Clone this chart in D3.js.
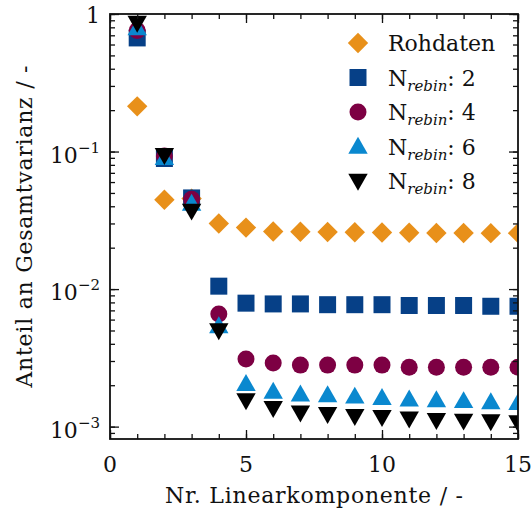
<!DOCTYPE html>
<html>
<head>
<meta charset="utf-8">
<script src="https://cdn.jsdelivr.net/npm/d3@7"></script>
<style>
  html, body { margin: 0; padding: 0; background: #fff; }
  svg text { font-family: "DejaVu Serif", "Liberation Serif", serif; fill: #111; }
</style>
</head>
<body>
<svg id="chart" width="531" height="510"></svg>
<script>
// Principal components (x) and their share of total variance
const components = [1, 2, 3, 4, 5, 6, 7, 8, 9, 10, 11, 12, 13, 14, 15];
const rohdaten = [0.213, 0.0446, 0.0455, 0.030, 0.028, 0.0262, 0.0261, 0.026, 0.0259, 0.0258, 0.0257, 0.0256, 0.0256, 0.0255, 0.0255];
const rebin2  = [0.67, 0.089, 0.046, 0.0105, 0.0079, 0.0078, 0.0078, 0.0077, 0.0077, 0.0077, 0.0076, 0.0076, 0.0076, 0.0075, 0.0075];
const rebin4  = [0.76, 0.093, 0.045, 0.0066, 0.0031, 0.0029, 0.0028, 0.0028, 0.0028, 0.0028, 0.0027, 0.0027, 0.0027, 0.0027, 0.0027];
const rebin6  = [0.79, 0.090, 0.042, 0.0054, 0.00205, 0.0018, 0.00172, 0.0017, 0.00166, 0.00162, 0.00158, 0.00156, 0.00154, 0.00151, 0.00149];
const rebin8  = [0.86, 0.094, 0.037, 0.0050, 0.00155, 0.00136, 0.00126, 0.00123, 0.00119, 0.00117, 0.00114, 0.00111, 0.0011, 0.00109, 0.00107];

const xTicks = [0, 5, 10, 15];
const yTicks = [1, 0.1, 0.01, 0.001];
const yTickLabels = ["1", "10^{-1}", "10^{-2}", "10^{-3}"];

const series = [
  { name: "Rohdaten", sub: null, values: rohdaten, symbol: "diamond", color: "#E8901A" },
  { name: "N", sub: "rebin", suffix: ": 2", values: rebin2, symbol: "square", color: "#064087" },
  { name: "N", sub: "rebin", suffix: ": 4", values: rebin4, symbol: "circle", color: "#7D0043" },
  { name: "N", sub: "rebin", suffix: ": 6", values: rebin6, symbol: "up", color: "#0A88CF" },
  { name: "N", sub: "rebin", suffix: ": 8", values: rebin8, symbol: "down", color: "#000000" }
];

const margin = { left: 110, right: 13, top: 14, bottom: 71 };
const W = 531, H = 510;
const svg = d3.select("#chart");

const x = d3.scaleLinear().domain([0, 15]).range([margin.left, W - margin.right]);
const y = d3.scaleLog().domain([Math.pow(10, -3.09), 1]).range([H - margin.bottom, margin.top]);

const plot = svg.append("g");
plot.append("clipPath").attr("id", "clip")
  .append("rect")
  .attr("x", margin.left).attr("y", margin.top)
  .attr("width", W - margin.left - margin.right)
  .attr("height", H - margin.top - margin.bottom);

// Marker shapes
function markerPath(sym, s) {
  switch (sym) {
    case "diamond": {
      const r = s * 0.6;
      return `M0,${-r}L${r},0L0,${r}L${-r},0Z`;
    }
    case "square": {
      const h = s * 0.5;
      return `M${-h},${-h}H${h}V${h}H${-h}Z`;
    }
    case "circle": {
      const r = s * 0.5;
      return `M${r},0A${r},${r} 0 1,1 ${-r},0A${r},${r} 0 1,1 ${r},0Z`;
    }
    case "up": {
      const h = s * 0.57;
      return `M0,${-h}L${h},${h * 0.75}L${-h},${h * 0.75}Z`;
    }
    case "down": {
      const h = s * 0.57;
      return `M0,${h}L${h},${-h * 0.75}L${-h},${-h * 0.75}Z`;
    }
  }
}

const markers = plot.append("g").attr("clip-path", "url(#clip)");
series.forEach(s => {
  markers.append("g").selectAll("path")
    .data(s.values.map((v, i) => [components[i], v]))
    .join("path")
    .attr("transform", d => `translate(${x(d[0])},${y(d[1])})`)
    .attr("d", markerPath(s.symbol, 17))
    .attr("fill", s.color);
});

// Axes with inward ticks on all four sides
const axisG = svg.append("g").attr("stroke", "#111");
const minorX = d3.range(0, 16);
const yMinor = [];
for (let e = -4; e <= 0; e++) for (let m = 1; m < 10; m++) {
  const v = m * Math.pow(10, e);
  if (v >= y.domain()[0] && v <= 1) yMinor.push(v);
}

function ticksX(g, yPos, dir) {
  g.append("g").call(
    (dir > 0 ? d3.axisBottom(x) : d3.axisTop(x)).tickValues(minorX).tickSize(-5).tickFormat("")
  ).attr("transform", `translate(0,${yPos})`);
  g.append("g").call(
    (dir > 0 ? d3.axisBottom(x) : d3.axisTop(x)).tickValues(xTicks).tickSize(-9).tickFormat("")
  ).attr("transform", `translate(0,${yPos})`);
}
function ticksY(g, xPos, left) {
  g.append("g").call(
    (left ? d3.axisLeft(y) : d3.axisRight(y)).tickValues(yMinor).tickSize(-5).tickFormat("")
  ).attr("transform", `translate(${xPos},0)`);
  g.append("g").call(
    (left ? d3.axisLeft(y) : d3.axisRight(y)).tickValues(yTicks).tickSize(-9).tickFormat("")
  ).attr("transform", `translate(${xPos},0)`);
}
ticksX(axisG, H - margin.bottom, 1);
ticksX(axisG, margin.top, -1);
ticksY(axisG, margin.left, true);
ticksY(axisG, W - margin.right, false);
axisG.selectAll(".domain").remove();
axisG.selectAll("line").attr("stroke", "#111").attr("stroke-width", 1.3);

svg.append("rect")
  .attr("x", margin.left).attr("y", margin.top)
  .attr("width", W - margin.left - margin.right)
  .attr("height", H - margin.top - margin.bottom)
  .attr("fill", "none").attr("stroke", "#111").attr("stroke-width", 1.8);

const FS = 22;

// Tick labels
svg.append("g").selectAll("text").data(xTicks).join("text")
  .attr("x", d => x(d)).attr("y", 472)
  .attr("text-anchor", "middle").attr("font-size", FS)
  .text(d => d);

const yl = svg.append("g").selectAll("text").data(yTicks).join("text")
  .attr("x", 100)
  .attr("text-anchor", "end").attr("font-size", FS);
yl.each(function (d, i) {
  const t = d3.select(this);
  const lab = yTickLabels[i];
  const m = lab.match(/^(\d+)\^\{(.+)\}$/);
  if (m) {
    t.attr("y", y(d) + 11);
    t.append("tspan").text(m[1]);
    t.append("tspan").attr("dy", -10).attr("font-size", 15).text(m[2].replace("-", "\u2212"));
  } else {
    t.attr("y", y(d) + 9).text(lab);
  }
});

// Axis titles
svg.append("text")
  .attr("x", (x(0) + x(15)) / 2).attr("y", 503)
  .attr("text-anchor", "middle").attr("font-size", FS)
  .attr("textLength", 298).attr("lengthAdjust", "spacing")
  .text("Nr. Linearkomponente / -");
svg.append("text")
  .attr("transform", `translate(32,${(margin.top + H - margin.bottom) / 2}) rotate(-90)`)
  .attr("text-anchor", "middle").attr("font-size", FS)
  .attr("textLength", 322).attr("lengthAdjust", "spacing")
  .text("Anteil an Gesamtvarianz / -");

// Legend
const legend = svg.append("g");
series.forEach((s, i) => {
  const ly = 43 + i * 34.5;
  legend.append("path")
    .attr("transform", `translate(358,${ly})`)
    .attr("d", markerPath(s.symbol, 17))
    .attr("fill", s.color);
  const t = legend.append("text").attr("x", 388).attr("y", ly + 8).attr("font-size", FS);
  t.append("tspan").text(s.name);
  if (s.sub) {
    t.append("tspan").attr("dy", 5).attr("font-size", 15).attr("font-style", "italic").text(s.sub);
    t.append("tspan").attr("dy", -5).text(s.suffix);
  }
});
</script>
</body>
</html>
